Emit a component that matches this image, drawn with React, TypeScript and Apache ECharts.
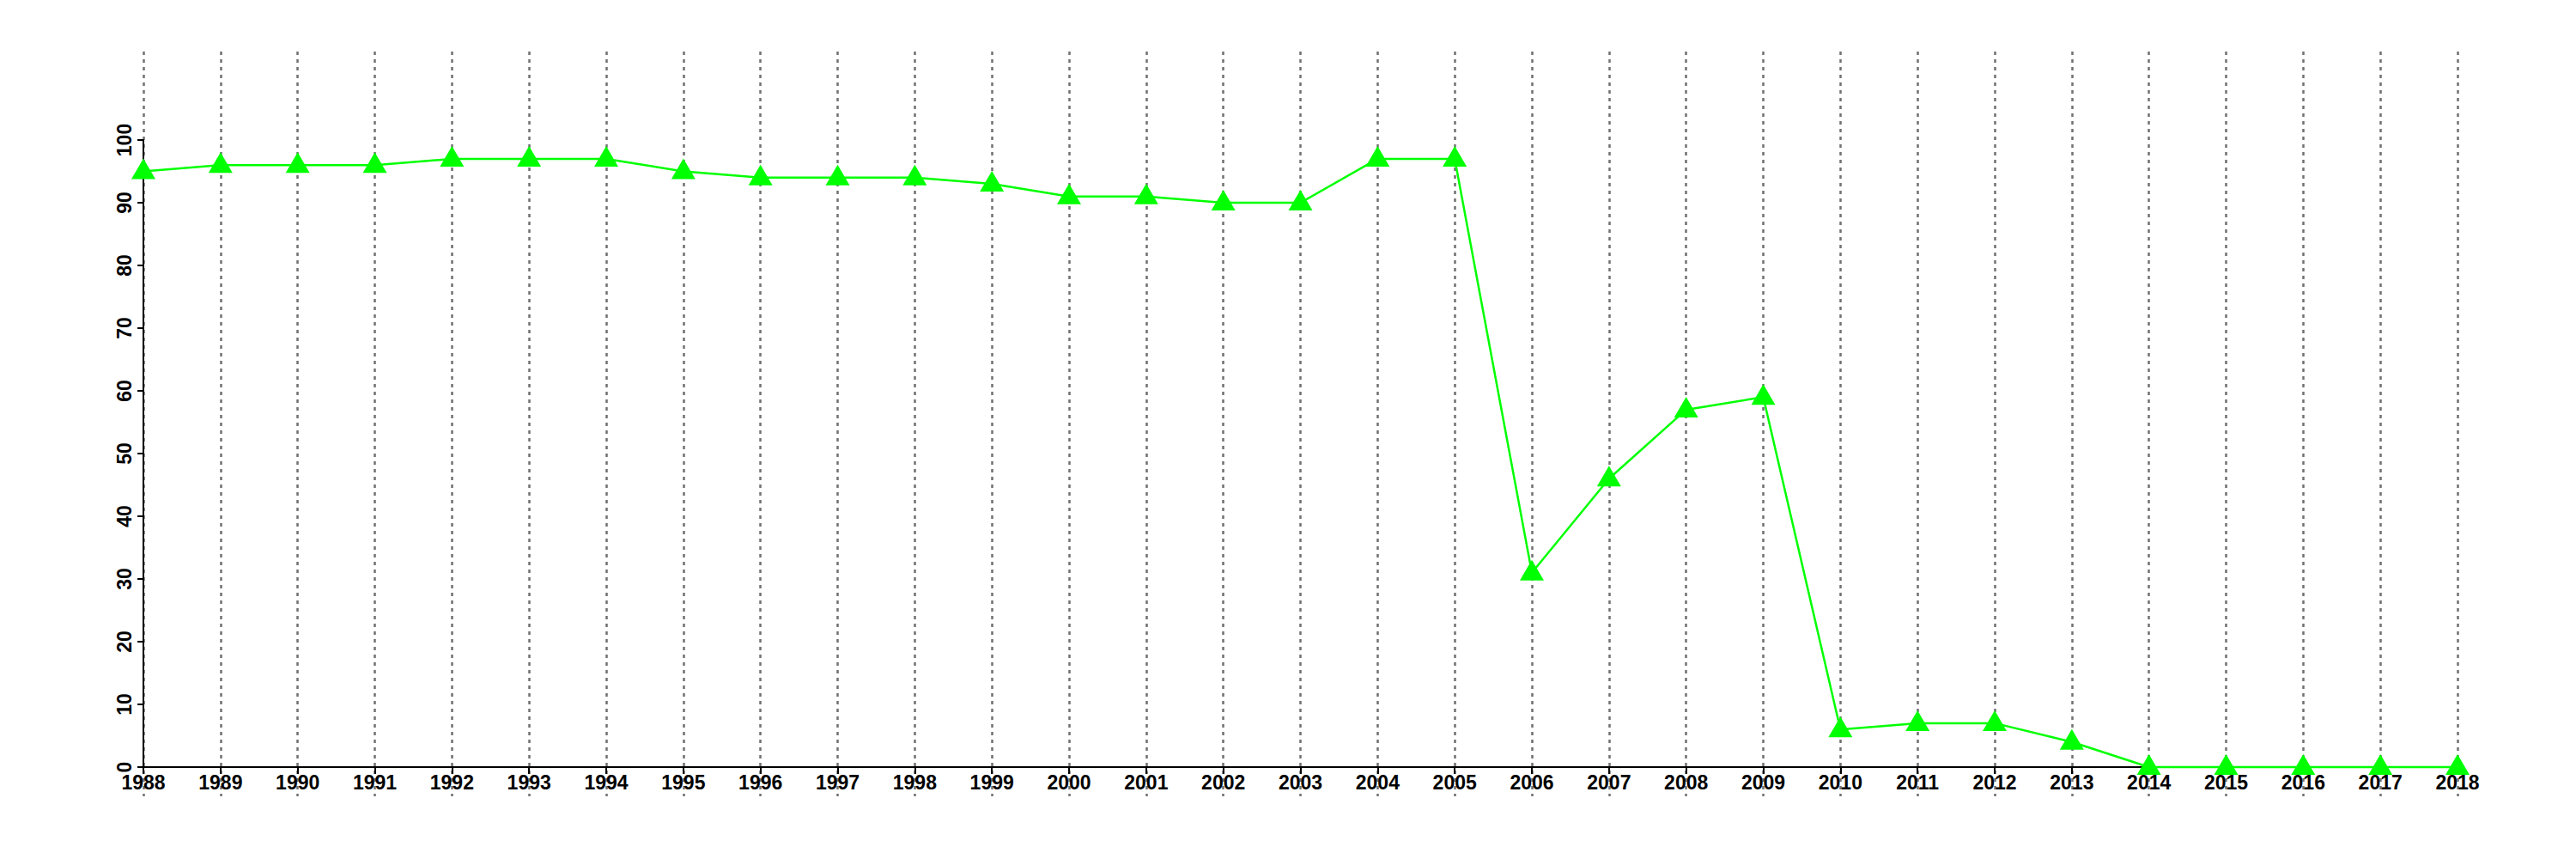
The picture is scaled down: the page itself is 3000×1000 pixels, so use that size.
import React, { useEffect, useRef } from "react";
import * as echarts from "echarts";

const years: string[] = [
  "1988", "1989", "1990", "1991", "1992", "1993", "1994", "1995", "1996", "1997",
  "1998", "1999", "2000", "2001", "2002", "2003", "2004", "2005", "2006", "2007",
  "2008", "2009", "2010", "2011", "2012", "2013", "2014", "2015", "2016", "2017", "2018",
];

const values: number[] = [
  95, 96, 96, 96, 97, 97, 97, 95, 94, 94,
  94, 93, 91, 91, 90, 90, 97, 97, 31, 46,
  57, 59, 6, 7, 7, 4, 0, 0, 0, 0, 0,
];

const yMin = 0;
const yMax = 100;
const yStep = 10;

const FONT = "'Liberation Sans', Arial, Helvetica, sans-serif";

export default function App() {
  const ref = useRef<HTMLDivElement>(null);

  useEffect(() => {
    if (!ref.current) return;
    const chart = echarts.init(ref.current, undefined, { renderer: "svg" });
    const labelStyle = {
      color: "#000",
      fontFamily: FONT,
      fontWeight: "bold" as const,
      fontSize: 23,
    };
    chart.setOption({
      animation: false,
      backgroundColor: "#ffffff",
      grid: [
        { left: 167, right: 138, top: 60, bottom: 73, containLabel: false },
        { left: 167, right: 138, top: 163, bottom: 107, containLabel: false },
      ],
      xAxis: [
        {
          gridIndex: 0,
          type: "category",
          data: years,
          boundaryGap: false,
          axisLine: { show: false },
          axisTick: { show: false },
          axisLabel: { show: false },
          splitLine: {
            show: true,
            interval: 0,
            lineStyle: { color: "#707070", width: 2.5, type: [4, 5] },
          },
        },
        {
          gridIndex: 1,
          type: "category",
          data: years,
          boundaryGap: false,
          axisLine: { show: true, onZero: false, lineStyle: { color: "#000", width: 2 } },
          axisTick: {
            show: true,
            interval: 0,
            inside: false,
            length: 8,
            lineStyle: { color: "#000", width: 2 },
          },
          axisLabel: { ...labelStyle, interval: 0, margin: 6 },
          splitLine: { show: false },
        },
      ],
      yAxis: [
        {
          gridIndex: 0,
          type: "value",
          min: 0,
          max: 1,
          show: false,
          splitLine: { show: false },
        },
        {
          gridIndex: 1,
          type: "value",
          min: yMin,
          max: yMax,
          interval: yStep,
          axisLine: { show: true, lineStyle: { color: "#000", width: 2 } },
          axisTick: {
            show: true,
            inside: false,
            length: 7,
            lineStyle: { color: "#000", width: 2 },
          },
          axisLabel: { ...labelStyle, rotate: 90, margin: 11 },
          splitLine: { show: false },
        },
      ],
      series: [
        {
          type: "line",
          xAxisIndex: 1,
          yAxisIndex: 1,
          data: values,
          clip: false,
          symbol: "triangle",
          symbolSize: [28, 24],
          symbolOffset: [0, -3],
          showAllSymbol: true,
          lineStyle: { color: "#00ff00", width: 2.5 },
          itemStyle: { color: "#00ff00" },
          emphasis: { disabled: true },
        },
      ],
    });
    return () => chart.dispose();
  }, []);

  return (
    <div
      ref={ref}
      style={{ position: "fixed", left: 0, top: 0, width: 3000, height: 1000, background: "#fff" }}
    />
  );
}
